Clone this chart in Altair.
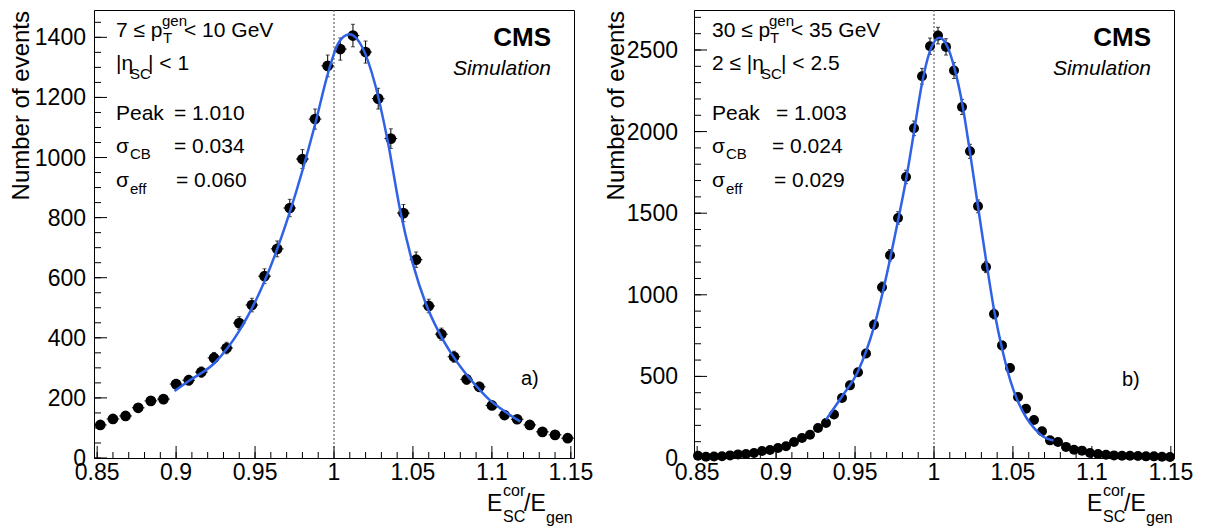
import altair as alt
import numpy as np
import pandas as pd

FONT = "Liberation Sans"
BLUE = "#2f62e6"
X_LO, X_HI = 0.848, 1.152
W, H = 480, 448

# ---------------- data: panel a ----------------
a_counts = [110, 130, 140, 167, 190, 196, 246, 259, 286, 333, 366, 449, 509, 605, 696, 832,
            995, 1128, 1305, 1361, 1406, 1351, 1196, 1063, 815, 660, 506, 412, 337, 262, 237,
            175, 143, 129, 110, 87, 77, 66]
a_fit_x = [0.899, 0.908, 0.9245, 0.940, 0.956, 0.972, 0.988, 0.996, 1.0025, 1.006, 1.010, 1.014,
           1.018, 1.026, 1.034, 1.042, 1.050, 1.058, 1.066, 1.074, 1.082, 1.090, 1.098, 1.106, 1.118]
a_fit_y = [223, 256, 317, 423, 588, 818, 1110, 1277, 1378, 1402, 1410, 1398, 1366, 1244, 1055, 822,
           645, 516, 423, 350, 290, 240, 196, 163, 121]
a_ymax = 1491
a_ymajor = [0, 200, 400, 600, 800, 1000, 1200, 1400]
a_ylabels = ["0", "200", "400", "600", "800", "1000", "1200", "1400"]
a_yminor = list(range(0, 1491, 50))

# ---------------- data: panel b ----------------
b_counts = [14, 8, 9, 11, 16, 22, 25, 31, 43, 49, 61, 72, 98, 123, 143, 184, 215, 266, 368, 445,
            525, 640, 817, 1046, 1242, 1471, 1722, 2020, 2339, 2523, 2588, 2519, 2374, 2151, 1879,
            1542, 1170, 882, 690, 551, 374, 302, 233, 164, 108, 98, 68, 51, 45, 31, 25, 20, 16, 14,
            14, 12, 10, 10, 8, 6]
b_fit_x = [0.9316, 0.9416, 0.9518, 0.9619, 0.9720, 0.9771, 0.9822, 0.9872, 0.9923, 0.9973, 1.0034,
           1.0084, 1.0129, 1.018, 1.023, 1.028, 1.0334, 1.0384, 1.0435, 1.0485, 1.0536, 1.0586,
           1.0637, 1.0688, 1.0757]
b_fit_y = [235, 375, 530, 800, 1210, 1450, 1700, 1990, 2290, 2490, 2575, 2523, 2390, 2165, 1859,
           1532, 1185, 888, 654, 470, 337, 245, 180, 133, 107]
b_ymax = 2745
b_ymajor = [0, 500, 1000, 1500, 2000, 2500]
b_ylabels = ["0", "500", "1000", "1500", "2000", "2500"]
b_yminor = list(range(0, 2745, 100))

x_major = [0.85, 0.9, 0.95, 1.0, 1.05, 1.1, 1.15]
x_labels = ["0.85", "0.9", "0.95", "1", "1.05", "1.1", "1.15"]
x_minor = [round(0.85 + 0.01 * i, 2) for i in range(31)]


def T(s, x, y, size=21, align="left", weight="normal", style="normal", angle=None):
    kw = dict(align=align, baseline="alphabetic", font=FONT, fontSize=size, color="black",
              fontWeight=weight, fontStyle=style)
    if angle is not None:
        kw["angle"] = angle
    return alt.Chart(pd.DataFrame({"t": [s]})).mark_text(**kw).encode(
        x=alt.value(x), y=alt.value(y), text="t:N")


def panel(counts, fit_x, fit_y, ymax, ymajor, ylabels, yminor, texts, ylab_pad, msize):
    edges = np.linspace(X_LO, X_HI, len(counts) + 1)
    centers = (edges[:-1] + edges[1:]) / 2
    half = (edges[1] - edges[0]) / 2
    df = pd.DataFrame({"x": centers, "y": counts})

    xs = alt.Scale(domain=[X_LO, X_HI], nice=False, zero=False)
    ys = alt.Scale(domain=[0, ymax], nice=False, zero=False)

    def X(f):
        return alt.X(f, scale=xs, axis=None)

    def Y(f):
        return alt.Y(f, scale=ys, axis=None)

    base = alt.Chart(df)
    tick_xM = alt.Chart(pd.DataFrame({"x": x_major})).mark_rule(color="black", strokeWidth=1).encode(
        x=X("x:Q"), y=alt.value(H), y2=alt.value(H - 12))
    tick_xm = alt.Chart(pd.DataFrame({"x": x_minor})).mark_rule(color="black", strokeWidth=1).encode(
        x=X("x:Q"), y=alt.value(H), y2=alt.value(H - 6))
    tick_yM = alt.Chart(pd.DataFrame({"y": ymajor})).mark_rule(color="black", strokeWidth=1).encode(
        y=Y("y:Q"), x=alt.value(0), x2=alt.value(13))
    tick_ym = alt.Chart(pd.DataFrame({"y": yminor})).mark_rule(color="black", strokeWidth=1).encode(
        y=Y("y:Q"), x=alt.value(0), x2=alt.value(7))
    xlab = alt.Chart(pd.DataFrame({"x": x_major, "lab": x_labels})).mark_text(
        font=FONT, fontSize=23, align="center", baseline="alphabetic", color="black").encode(
        x=X("x:Q"), y=alt.value(470), text="lab:N")
    ylab = alt.Chart(pd.DataFrame({"y": ymajor, "lab": ylabels})).mark_text(
        font=FONT, fontSize=23, align="right", baseline="alphabetic", color="black", dy=8).encode(
        y=Y("y:Q"), x=alt.value(-ylab_pad), text="lab:N")
    dashed = alt.Chart(pd.DataFrame({"x": [1.0]})).mark_rule(
        color="#444444", strokeWidth=1, strokeDash=[2, 2]).encode(
        x=X("x:Q"), y=alt.value(0), y2=alt.value(H))
    errs = base.transform_calculate(
        lo="datum.y - sqrt(datum.y)", hi="datum.y + sqrt(datum.y)")
    vbar = errs.mark_rule(color="black", strokeWidth=1).encode(
        x=X("x:Q"), y=Y("lo:Q"), y2="hi:Q")
    cap_lo = errs.mark_tick(color="black", orient="horizontal", size=4, thickness=1).encode(
        x=X("x:Q"), y=Y("lo:Q"))
    cap_hi = errs.mark_tick(color="black", orient="horizontal", size=4, thickness=1).encode(
        x=X("x:Q"), y=Y("hi:Q"))
    hbar = base.transform_calculate(
        xl="datum.x - %f" % half, xr="datum.x + %f" % half).mark_rule(
        color="black", strokeWidth=1).encode(x=X("xl:Q"), x2="xr:Q", y=Y("y:Q"))
    pts = base.mark_circle(size=msize, color="black", opacity=1).encode(
        x=X("x:Q"), y=Y("y:Q"))
    fit = alt.Chart(pd.DataFrame({"x": fit_x, "y": fit_y})).mark_line(
        color=BLUE, strokeWidth=2.5, interpolate="monotone").encode(x=X("x:Q"), y=Y("y:Q"))

    layers = [tick_xm, tick_xM, tick_ym, tick_yM, xlab, ylab, dashed, vbar, cap_lo, cap_hi,
              hbar, pts, fit] + texts
    return alt.layer(*layers).properties(width=W, height=H)


def x_title():
    return [
        T("E", 393, 501, size=23),
        T("cor", 409, 486, size=16),
        T("SC", 409, 512, size=16),
        T("/E", 430, 501, size=23),
        T("gen", 452, 513, size=16),
    ]


texts_a = [
    T("Number of events", -65, 1, size=24, align="right", angle=270),
    T("7 ≤ p", 22, 27), T("gen", 68, 16, size=15), T("T", 69, 33, size=15), T("< 10 GeV", 90, 27),
    T("|η", 22, 60), T("SC", 36, 69, size=15), T("| < 1", 54, 60),
    T("Peak", 22, 110), T("= 1.010", 80, 110),
    T("σ", 22, 143), T("CB", 36, 149, size=15), T("= 0.034", 80, 143),
    T("σ", 22, 177), T("eff", 36, 184, size=15), T("= 0.060", 82, 177),
    T("CMS", 457, 36, size=26, align="right", weight="bold"),
    T("Simulation", 457, 65, size=21, align="right", style="italic"),
    T("a)", 427, 375, size=20),
] + x_title()

texts_b = [
    T("Number of events", -70, 1, size=24, align="right", angle=270),
    T("30 ≤ p", 18, 27), T("gen", 75, 16, size=15), T("T", 76, 33, size=15), T("< 35 GeV", 97, 27),
    T("2 ≤ |η", 18, 60), T("SC", 67, 69, size=15), T("| < 2.5", 87, 60),
    T("Peak", 18, 110), T("= 1.003", 82, 110),
    T("σ", 18, 143), T("CB", 32, 149, size=15), T("= 0.024", 78, 143),
    T("σ", 18, 177), T("eff", 32, 184, size=15), T("= 0.029", 80, 177),
    T("CMS", 457, 36, size=26, align="right", weight="bold"),
    T("Simulation", 457, 65, size=21, align="right", style="italic"),
    T("b)", 428, 376, size=20),
] + x_title()

pa = panel(a_counts, a_fit_x, a_fit_y, a_ymax, a_ymajor, a_ylabels, a_yminor, texts_a, 8, 115)
pb = panel(b_counts, b_fit_x, b_fit_y, b_ymax, b_ymajor, b_ylabels, b_yminor, texts_b, 16, 100)

chart = alt.hconcat(pa, pb, spacing=120, bounds="flush").configure_view(
    stroke="black", strokeWidth=1).properties(
    padding={"left": 1, "top": 1, "right": 2, "bottom": 0}, background="white")

chart.save("out.html", embed_options={"renderer": "svg", "actions": False})
